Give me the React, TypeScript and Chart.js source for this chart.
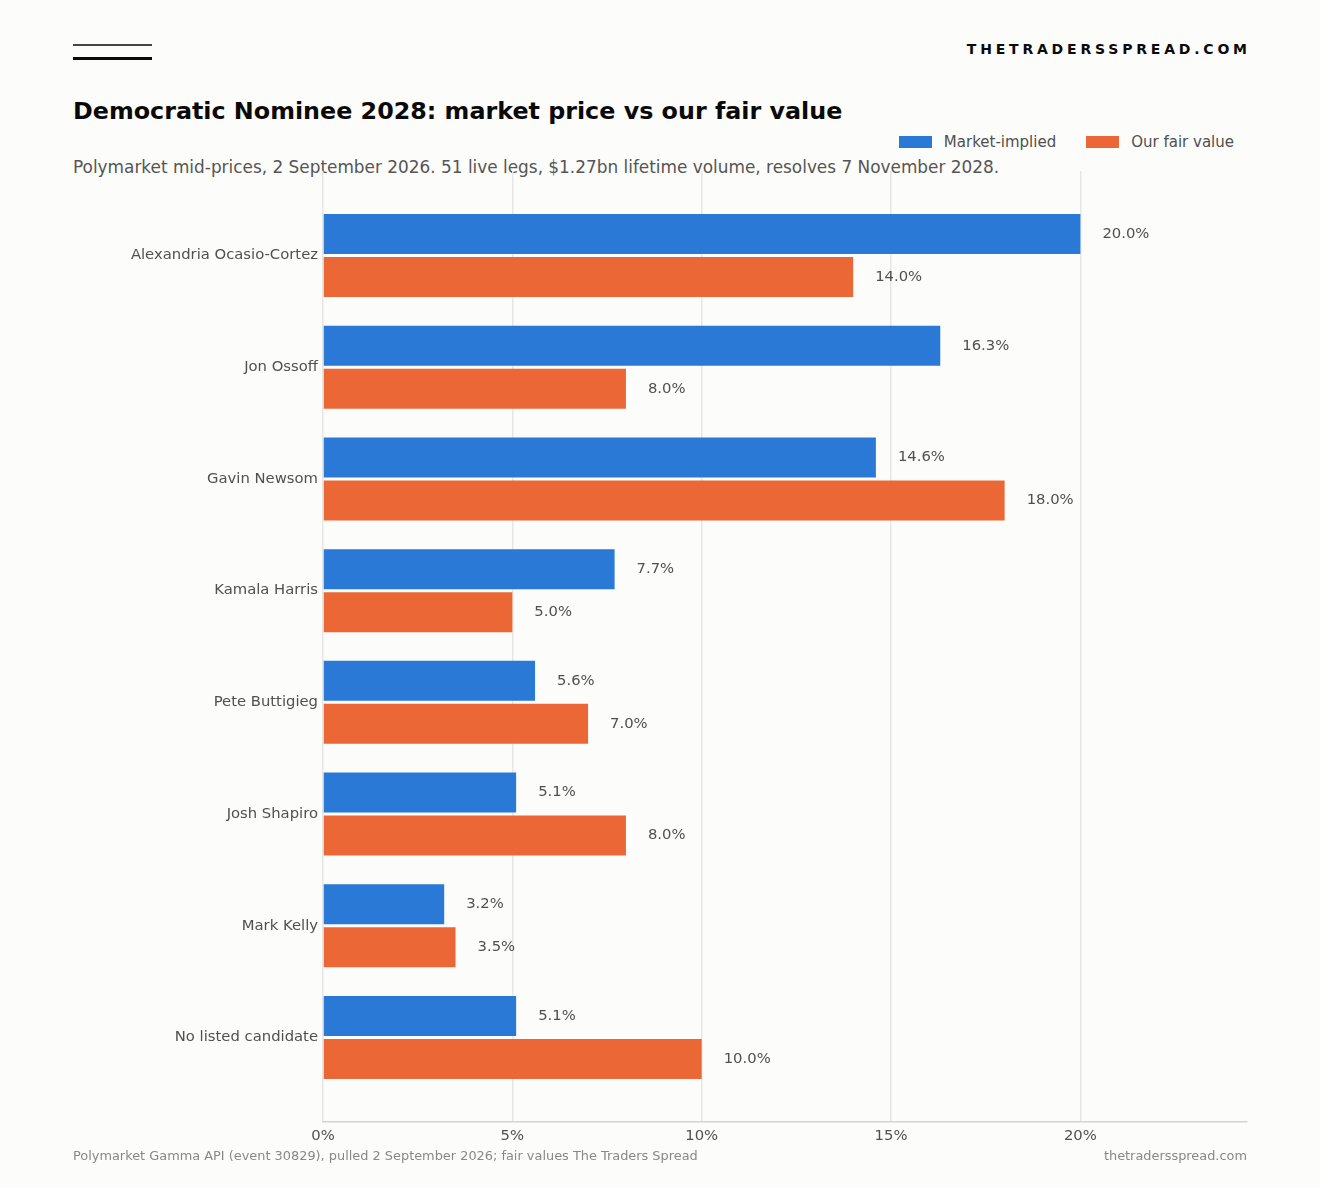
import React, { useEffect, useRef } from "react";
import Chart from "chart.js/auto";

// candidates, top to bottom
const candidates = [
  "Alexandria Ocasio-Cortez",
  "Jon Ossoff",
  "Gavin Newsom",
  "Kamala Harris",
  "Pete Buttigieg",
  "Josh Shapiro",
  "Mark Kelly",
  "No listed candidate",
];
const marketImplied = [20.0, 16.3, 14.6, 7.7, 5.6, 5.1, 3.2, 5.1];
const fairValue = [14.0, 8.0, 18.0, 5.0, 7.0, 8.0, 3.5, 10.0];
const xTicks = [0, 5, 10, 15, 20];

const BLUE = "#2a79d6";
const ORANGE = "#eb6836";
const BG = "#fcfcfa";
const FONT = "'DejaVu Sans', sans-serif";

// value labels just past the end of each bar
const valueLabels = {
  id: "valueLabels",
  afterDatasetsDraw(chart: any) {
    const ctx = chart.ctx;
    ctx.save();
    ctx.font = `14.8px ${FONT}`;
    ctx.fillStyle = "#505050";
    ctx.textAlign = "left";
    ctx.textBaseline = "middle";
    chart.data.datasets.forEach((ds: any, di: number) => {
      const meta = chart.getDatasetMeta(di);
      meta.data.forEach((bar: any, i: number) => {
        ctx.fillText(ds.data[i].x.toFixed(1) + "%", bar.x + 22, bar.y);
      });
    });
    ctx.restore();
  },
};

const BarChart: React.FC = () => {
  const chartRef = useRef<HTMLCanvasElement>(null);

  useEffect(() => {
    let chart: Chart | null = null;
    if (chartRef.current) {
      const ctx = chartRef.current.getContext("2d");
      if (ctx) {
        chart = new Chart(ctx, {
          type: "bar",
          data: {
            datasets: [
              {
                label: "Market-implied",
                data: marketImplied.map((v, i) => ({ x: v, y: i })),
                backgroundColor: BLUE,
                categoryPercentage: 0.77,
                barPercentage: 0.93,
              },
              {
                label: "Our fair value",
                data: fairValue.map((v, i) => ({ x: v, y: i })),
                backgroundColor: ORANGE,
                categoryPercentage: 0.77,
                barPercentage: 0.93,
              },
            ] as any,
          },
          options: {
            indexAxis: "y",
            animation: false,
            responsive: false,
            maintainAspectRatio: false,
            layout: { padding: { top: 0, right: 73, left: 0, bottom: 0 } },
            plugins: {
              legend: { display: false },
              tooltip: { enabled: false },
            },
            scales: {
              x: {
                type: "linear",
                min: 0,
                max: 24.4,
                afterBuildTicks: (scale: any) => {
                  scale.ticks = xTicks.map((v) => ({ value: v }));
                },
                afterFit: (scale: any) => {
                  scale.height = 38;
                },
                grid: {
                  color: "#e6e6e4",
                  lineWidth: 1.5,
                  drawTicks: false,
                },
                border: { display: true, color: "#d4d4d2", width: 1.5 },
                ticks: {
                  padding: 5,
                  color: "#505050",
                  font: { family: FONT, size: 14.8 },
                  callback: (v: any) => v + "%",
                },
              },
              y: {
                type: "linear",
                reverse: true,
                offset: false,
                min: -0.7565,
                max: 7.7565,
                afterBuildTicks: (scale: any) => {
                  scale.ticks = candidates.map((_, i) => ({ value: i }));
                },
                afterFit: (scale: any) => {
                  scale.width = 323;
                  scale.paddingTop = 0;
                  scale.paddingBottom = 0;
                },
                grid: { display: false, drawTicks: false, offset: false },
                border: { display: false },
                ticks: {
                  padding: 5,
                  color: "#505050",
                  font: { family: FONT, size: 14.8 },
                  callback: (v: any) => candidates[v] ?? "",
                },
              },
            },
          },
          plugins: [valueLabels],
        });
      }
    }
    return () => {
      if (chart) chart.destroy();
    };
  }, []);

  return (
    <canvas
      ref={chartRef}
      width={1320}
      height={989}
      style={{ position: "absolute", left: 0, top: 171, width: 1320, height: 989 }}
    />
  );
};

const LegendItem: React.FC<{ color: string; label: string }> = ({ color, label }) => (
  <div style={{ display: "flex", alignItems: "center", marginLeft: 30 }}>
    <span style={{ width: 33, height: 12, background: color, display: "inline-block", marginRight: 12 }} />
    <span>{label}</span>
  </div>
);

export default function App() {
  return (
    <div
      style={{
        position: "absolute",
        left: 0,
        top: 0,
        width: 1320,
        height: 1188,
        background: BG,
        fontFamily: FONT,
        overflow: "hidden",
      }}
    >
      <div style={{ position: "absolute", left: 73, top: 44, width: 79, height: 1.5, background: "#444" }} />
      <div style={{ position: "absolute", left: 73, top: 57, width: 79, height: 3, background: "#0a0a0a" }} />
      <div
        style={{
          position: "absolute",
          right: 73 - 3.8,
          top: 41,
          fontSize: 14,
          fontWeight: "bold",
          letterSpacing: 3.8,
          color: "#0a0a0a",
        }}
      >
        THETRADERSSPREAD.COM
      </div>
      <div
        style={{
          position: "absolute",
          left: 73,
          top: 97,
          fontSize: 23.8,
          fontWeight: "bold",
          color: "#0a0a0a",
          whiteSpace: "nowrap",
        }}
      >
        Democratic Nominee 2028: market price vs our fair value
      </div>
      <div
        style={{
          position: "absolute",
          right: 86,
          top: 133,
          display: "flex",
          fontSize: 15,
          color: "#505050",
        }}
      >
        <LegendItem color={BLUE} label="Market-implied" />
        <LegendItem color={ORANGE} label="Our fair value" />
      </div>
      <div
        style={{
          position: "absolute",
          left: 73,
          top: 157,
          fontSize: 16.9,
          color: "#555",
          whiteSpace: "nowrap",
        }}
      >
        Polymarket mid-prices, 2 September 2026. 51 live legs, $1.27bn lifetime volume, resolves 7 November 2028.
      </div>
      <BarChart />
      <div
        style={{
          position: "absolute",
          left: 73,
          top: 1148,
          fontSize: 12.9,
          color: "#888",
          whiteSpace: "nowrap",
        }}
      >
        Polymarket Gamma API (event 30829), pulled 2 September 2026; fair values The Traders Spread
      </div>
      <div
        style={{
          position: "absolute",
          right: 73,
          top: 1148,
          fontSize: 12.9,
          color: "#888",
          whiteSpace: "nowrap",
        }}
      >
        thetradersspread.com
      </div>
    </div>
  );
}
